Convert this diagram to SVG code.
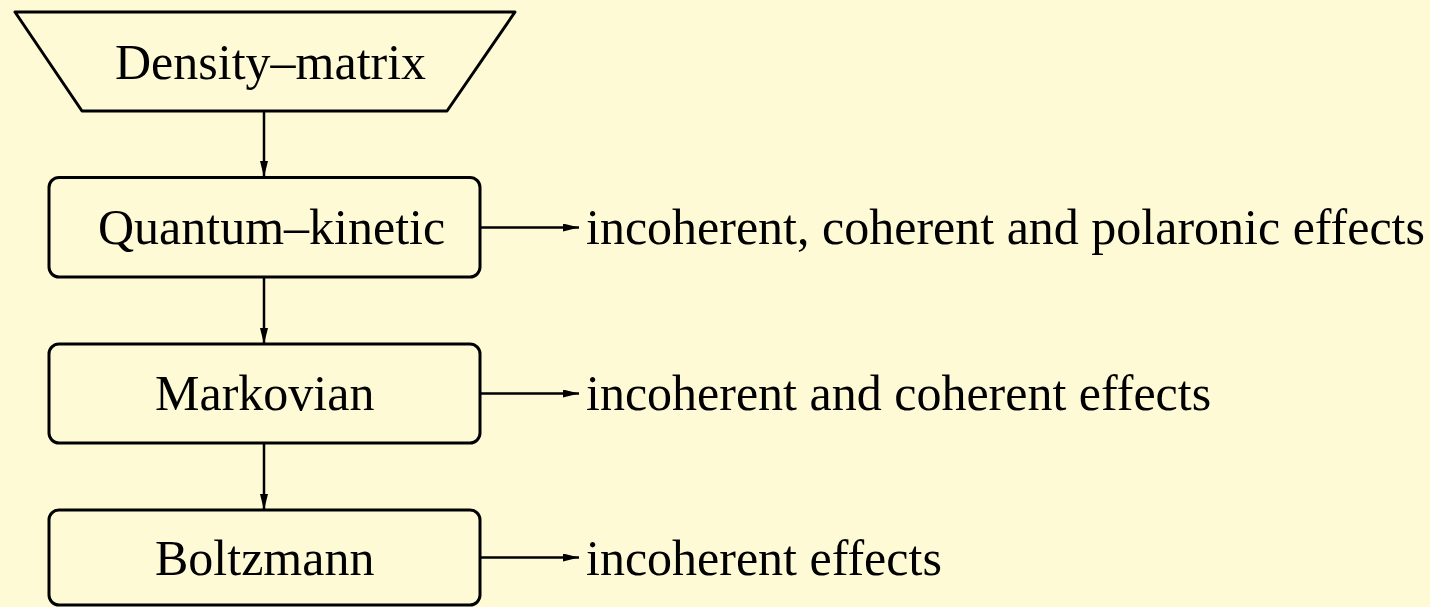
<svg xmlns="http://www.w3.org/2000/svg" width="1430" height="607" viewBox="0 0 1430 607">
  <style>
    .shape { fill: none; stroke: #000; stroke-width: 3; stroke-linejoin: round; }
    .edge { fill: none; stroke: #000; stroke-width: 2.5; }
    .label { font-family: "Liberation Serif", "Times New Roman", serif; font-size: 50px; fill: #000; }
  </style>
  <defs>
    <marker id="arrowhead" viewBox="0 0 16 8" refX="16" refY="4" markerWidth="16" markerHeight="8" markerUnits="userSpaceOnUse" orient="auto">
      <path d="M0,0 L16,4 L0,8 Z" fill="#000"/>
    </marker>
  </defs>
  <rect width="1430" height="607" fill="#FFFAD6"/>

  <g id="density-matrix">
    <polygon class="shape" points="15,12 515,12 447,111 82,111"/>
    <text class="label" x="115" y="79">Density–matrix</text>
  </g>

  <g id="quantum-kinetic">
    <rect class="shape" x="49" y="177.5" width="431" height="99.5" rx="10" ry="10"/>
    <text class="label" x="98" y="244">Quantum–kinetic</text>
  </g>

  <g id="markovian">
    <rect class="shape" x="49" y="344" width="431" height="99" rx="10" ry="10"/>
    <text class="label" x="155" y="410">Markovian</text>
  </g>

  <g id="boltzmann">
    <rect class="shape" x="49" y="510" width="431" height="95" rx="10" ry="10"/>
    <text class="label" x="155" y="575">Boltzmann</text>
  </g>

  <g id="effects-quantum-kinetic">
    <text class="label" x="586" y="244">incoherent, coherent and polaronic effects</text>
  </g>
  <g id="effects-markovian">
    <text class="label" x="586" y="410">incoherent and coherent effects</text>
  </g>
  <g id="effects-boltzmann">
    <text class="label" x="586" y="575">incoherent effects</text>
  </g>

  <g id="connectors">
    <line class="edge" x1="264" y1="111" x2="264" y2="177" marker-end="url(#arrowhead)"/>
    <line class="edge" x1="264" y1="277" x2="264" y2="344" marker-end="url(#arrowhead)"/>
    <line class="edge" x1="264" y1="443" x2="264" y2="510" marker-end="url(#arrowhead)"/>
    <line class="edge" x1="480" y1="227.5" x2="579" y2="227.5" marker-end="url(#arrowhead)"/>
    <line class="edge" x1="480" y1="393.5" x2="579" y2="393.5" marker-end="url(#arrowhead)"/>
    <line class="edge" x1="480" y1="557.5" x2="579" y2="557.5" marker-end="url(#arrowhead)"/>
  </g>
</svg>
